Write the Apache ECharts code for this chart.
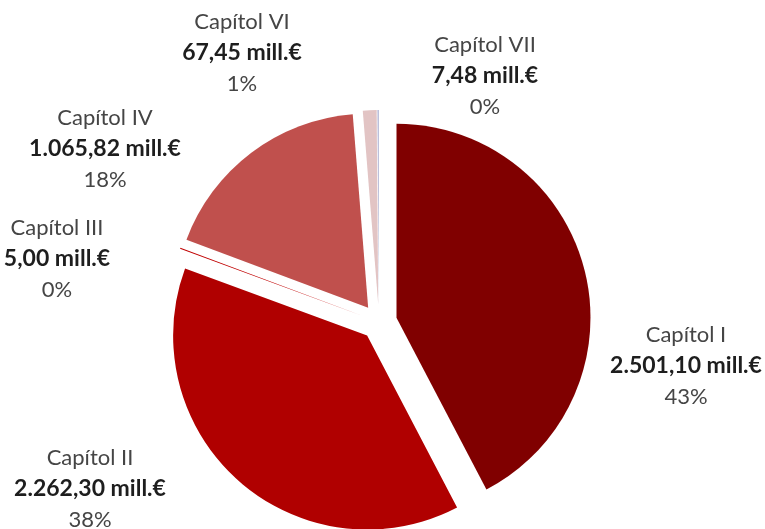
<!DOCTYPE html>
<html>
<head>
    <meta charset="utf-8">
    <title>Capítols</title>
    <script src="https://cdn.jsdelivr.net/npm/echarts@6/dist/echarts.min.js"></script>
    <style>
        html, body { margin: 0; padding: 0; background: #fff; }
    </style>
</head>
<body>
    <div id="main" style="width: 765px;height:529px;"></div>

    <script type="text/javascript">
        // dades del gràfic
        var categories = ['Capítol I', 'Capítol II', 'Capítol III', 'Capítol IV', 'Capítol VI', 'Capítol VII'];
        var values = [2501.10, 2262.30, 5.00, 1065.82, 67.45, 7.48];
        var percents = [43, 38, 0, 18, 1, 0];
        var colors = ['#800000', '#b00000', '#c00000', '#c0504d', '#e2c4c4', '#b9bdd9'];

        // on va cada etiqueta (centre del bloc de text)
        var labelPos = [[686, 366], [90, 489], [57, 259], [105, 149], [242, 53], [485, 76]];

        function fmt(v) {
            var parts = v.toFixed(2).split('.');
            parts[0] = parts[0].replace(/\B(?=(\d{3})+(?!\d))/g, '.');
            return parts[0] + ',' + parts[1];
        }

        var myChart = echarts.init(document.getElementById('main'));

        var data = categories.map(function (c, i) {
            return {
                name: c,
                value: values[i],
                selected: true,
                itemStyle: { color: colors[i] }
            };
        });

        var richStyle = {
            n: { fontFamily: 'Lato', fontSize: 22, fill: '#454545', lineHeight: 31, align: 'center' },
            v: { fontFamily: 'Lato', fontSize: 23, fontWeight: 'bold', fill: '#1e1e1e', lineHeight: 31, align: 'center' }
        };

        // etiquetes com a text real
        var labels = categories.map(function (c, i) {
            return {
                type: 'text',
                x: labelPos[i][0],
                y: labelPos[i][1],
                silent: true,
                style: {
                    text: '{n|' + c + '}\n{v|' + fmt(values[i]) + ' mill.€}\n{n|' + percents[i] + '%}',
                    align: 'center',
                    verticalAlign: 'middle',
                    rich: richStyle
                }
            };
        });

        var option = {
            animation: false,
            graphic: labels,
            series: [{
                type: 'pie',
                center: [379, 322],
                radius: [0, 194],
                startAngle: 90,
                clockwise: true,
                selectedMode: 'multiple',
                selectedOffset: 18,
                data: data,
                emphasis: { disabled: true },
                label: { show: false },
                labelLine: { show: false }
            }]
        };

        myChart.setOption(option);
    </script>
</body>
</html>
